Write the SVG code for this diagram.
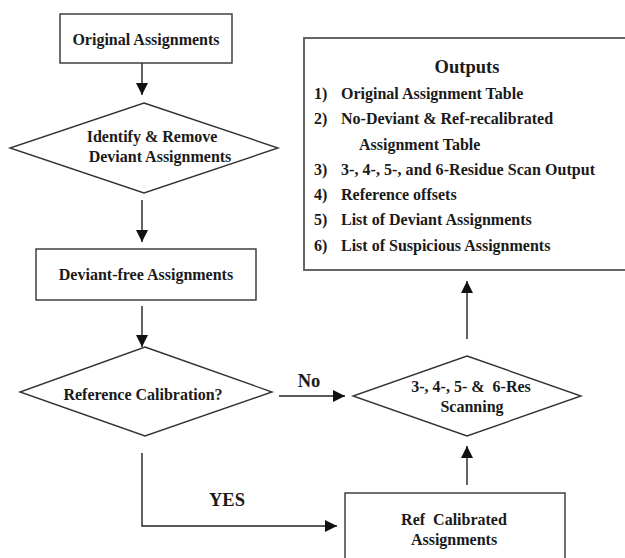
<svg xmlns="http://www.w3.org/2000/svg" width="625" height="558" viewBox="0 0 625 558">
<style>
text{font-family:"Liberation Serif","Times New Roman",serif;font-weight:bold;fill:#1a1a1a;font-size:16px;white-space:pre}
.c{text-anchor:middle}
.big{font-size:18.5px}
.shape{fill:#fff;stroke:#333;stroke-width:1.4}
.edge{fill:none;stroke:#222;stroke-width:1.4}
</style>
<defs>
<marker id="ah" markerUnits="userSpaceOnUse" markerWidth="12" markerHeight="14" viewBox="0 0 12 14" refX="12" refY="6" orient="auto">
<path d="M0,0 L12,6 L0,12 Z" fill="#111"/>
</marker>
</defs>
<rect width="625" height="558" fill="#fff"/>
<g id="connectors">
<line class="edge" x1="142" y1="63" x2="142" y2="95" marker-end="url(#ah)"/>
<line class="edge" x1="142" y1="200" x2="142" y2="242" marker-end="url(#ah)"/>
<line class="edge" x1="142" y1="306" x2="142" y2="347" marker-end="url(#ah)"/>
<line class="edge" x1="279" y1="396" x2="345" y2="396" marker-end="url(#ah)"/>
<text class="c big" x="309" y="387">No</text>
<polyline class="edge" points="142,453 142,526 337,526" marker-end="url(#ah)"/>
<text class="c big" x="227" y="506">YES</text>
<line class="edge" x1="467" y1="485" x2="467" y2="446" marker-end="url(#ah)"/>
<line class="edge" x1="467" y1="339" x2="467" y2="281" marker-end="url(#ah)"/>
</g>
<g id="original">
<rect class="shape" x="60" y="14" width="172" height="49"/>
<text class="c" x="146" y="45">Original Assignments</text>
</g>
<g id="identify">
<polygon class="shape" points="144,103 278,148 144,193 10,148"/>
<text class="c" x="152" y="142">Identify &amp; Remove</text>
<text class="c" x="160" y="162">Deviant Assignments</text>
</g>
<g id="deviantfree">
<rect class="shape" x="36" y="249" width="220" height="51"/>
<text class="c" x="146" y="280">Deviant-free Assignments</text>
</g>
<g id="refcal">
<polygon class="shape" points="145,347 272,392 145,436 20,392"/>
<text class="c" x="143" y="400">Reference Calibration?</text>
</g>
<g id="scanning">
<polygon class="shape" points="467,356 581,396 467,436 353,396"/>
<text class="c" x="471" y="392">3-, 4-, 5- &amp;  6-Res</text>
<text class="c" x="472" y="412">Scanning</text>
</g>
<g id="refbox">
<rect class="shape" x="345" y="493" width="220" height="80"/>
<text class="c" x="454" y="525">Ref  Calibrated</text>
<text class="c" x="454" y="545">Assignments</text>
</g>
<g id="outputs">
<rect class="shape" x="304" y="38" width="340" height="232" style="stroke:#555;stroke-width:1.8"/>
<text class="c big" x="467" y="73">Outputs</text>
<text x="314" y="99">1)</text><text x="341" y="99">Original Assignment Table</text>
<text x="314" y="124">2)</text><text x="341" y="124">No-Deviant &amp; Ref-recalibrated</text>
<text x="359" y="150">Assignment Table</text>
<text x="314" y="175">3)</text><text x="341" y="175" textLength="254" lengthAdjust="spacing">3-, 4-, 5-, and 6-Residue Scan Output</text>
<text x="314" y="200">4)</text><text x="341" y="200">Reference offsets</text>
<text x="314" y="225">5)</text><text x="341" y="225">List of Deviant Assignments</text>
<text x="314" y="251">6)</text><text x="341" y="251">List of Suspicious Assignments</text>
</g>
</svg>
